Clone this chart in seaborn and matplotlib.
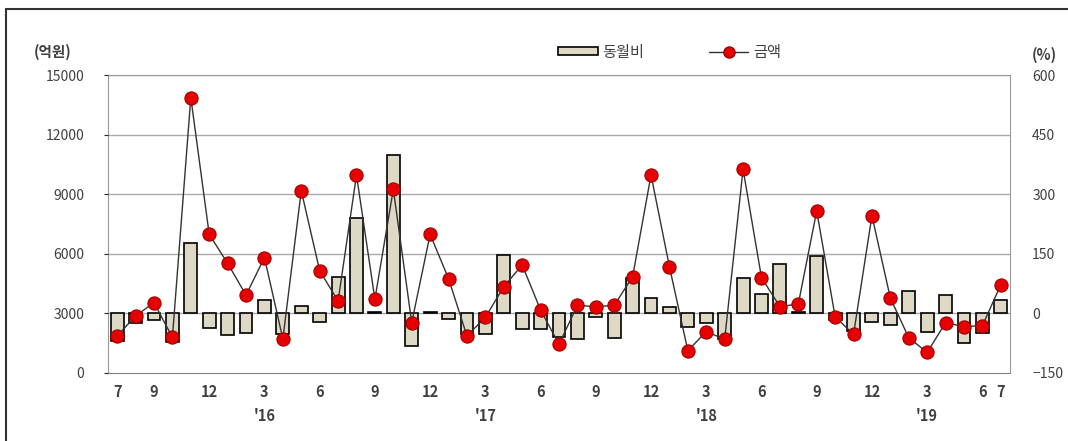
import numpy as np
import pandas as pd
import matplotlib
matplotlib.use('Agg')
import matplotlib.pyplot as plt
import seaborn as sns
from matplotlib.patches import Patch
from matplotlib.lines import Line2D

# 2015.7 ~ 2019.7 월별
months = pd.period_range('2015-07', '2019-07', freq='M')
amount = [1850, 2860, 3530, 1780, 13860, 6970, 5510, 3910, 5800, 1700,
          9170, 5140, 3610, 9960, 3700, 9240, 2520, 6970, 4740, 1850,
          2790, 4330, 5430, 3160, 1430, 3390, 3330, 3390, 4840, 9960,
          5340, 1110, 2070, 1680, 10250, 4790, 3330, 3460, 8150, 2820,
          1930, 7910, 3760, 1760, 1020, 2520, 2320, 2370, 4430]
yoy = [-69, -25, -18, -73, 176, -38, -55, -49, 34, -52,
       18, -22, 92, 239, 2, 399, -84, 2, -15, -52,
       -52, 147, -40, -40, -60, -66, -10, -63, 88, 39,
       15, -36, -25, -66, 88, 48, 123, 2, 143, -18,
       -46, -23, -29, 55, -48, 45, -76, -50, 34]
tick_idx = [0, 2, 5, 8, 11, 14, 17, 20, 23, 26, 29, 32, 35, 38, 41, 44, 47, 48]
year_idx = [8, 20, 32, 44]
year_labels = ["'16", "'17", "'18", "'19"]

df = pd.DataFrame({'month': months.strftime('%Y-%m'), 'amount': amount, 'yoy': yoy})
df['pos'] = np.arange(len(df))

sns.set_style('white')
plt.rcParams['font.family'] = ['Noto Sans CJK KR', 'DejaVu Sans']

fig = plt.figure(figsize=(10.68, 4.41), dpi=100)
ax = fig.add_axes([0.1011, 0.1549, 0.8446, 0.6750])
ax2 = ax.twinx()

bar_color = '#DDD9C4'
sns.barplot(data=df, x='month', y='yoy', ax=ax2, color=bar_color,
            edgecolor='black', linewidth=1.2, width=0.7, saturation=1)
ax2.set_ylim(-150, 600)
ax2.set_yticks(np.arange(-150, 601, 150))
ax2.set_ylabel('')

sns.lineplot(data=df, x='pos', y='amount', ax=ax, color='#333333', linewidth=1,
             marker='o', markersize=9.5, markerfacecolor='#E60000',
             markeredgecolor='#A00000', markeredgewidth=0.8)
ax.set_zorder(ax2.get_zorder() + 1)
ax.patch.set_visible(False)
ax.set_ylim(0, 15000)
ax.set_yticks(np.arange(0, 15001, 3000))
ax.set_xlim(-0.5, len(df) - 0.5)
ax2.set_xlim(-0.5, len(df) - 0.5)
ax.set_ylabel('')
ax.set_xlabel('')
ax2.set_xlabel('')

# 가로 격자선 (오른쪽 축 뒤에)
for v in np.arange(3000, 15001, 3000):
    ax2.axhline((v / 15000) * 750 - 150, color='#AAAAAA', linewidth=1, zorder=0)

labels = [str(months[i].month) for i in tick_idx]
ax.set_xticks(tick_idx)
ax.set_xticklabels(labels, fontsize=10.5, fontweight='bold', color='#404040')
ax.set_xticks(np.arange(-0.5, len(df), 1), minor=True)
ax.tick_params(axis='x', which='major', length=0, pad=8)
ax.tick_params(axis='x', which='minor', direction='in', length=4, color='#555555')
ax2.tick_params(axis='x', which='both', length=0, labelbottom=False)
ax.tick_params(axis='y', length=3, pad=14, labelsize=10, labelcolor='#404040')
ax2.tick_params(axis='y', length=0, pad=16, labelsize=10, labelcolor='#404040')

for i, lab in zip(year_idx, year_labels):
    ax.text(i, -0.145, lab, transform=ax.get_xaxis_transform(), ha='center', va='center',
            fontsize=10.5, fontweight='bold', color='#404040')

for a in (ax, ax2):
    for s in a.spines.values():
        s.set_visible(False)
ax2.spines['left'].set_visible(True)
ax2.spines['right'].set_visible(True)
ax2.spines['top'].set_visible(True)
ax2.spines['bottom'].set_visible(True)
for s in ('left', 'right', 'top'):
    ax2.spines[s].set_color('#999999')
ax2.spines['bottom'].set_color('#808080')
ax2.spines['bottom'].set_position(('data', -150))

fig.text(0.049, 0.882, '(억원)', ha='center', va='center', fontsize=10.5,
         fontweight='bold', color='#404040')
fig.text(0.978, 0.876, '(%)', ha='center', va='center', fontsize=10.5,
         fontweight='bold', color='#404040')

handles = [Patch(facecolor=bar_color, edgecolor='black', linewidth=1.2),
           Line2D([0], [0], color='#333333', linewidth=1, marker='o', markersize=8,
                  markerfacecolor='#E60000', markeredgecolor='#A00000')]
fig.legend(handles, ['동월비', '금액'], loc='center', bbox_to_anchor=(0.627, 0.882),
           ncol=2, frameon=False, fontsize=11, handlelength=2.6, handleheight=0.5,
           columnspacing=4.2, handletextpad=0.3, labelcolor='#404040')

# 그림 테두리 (위, 왼쪽)
fig.add_artist(Line2D([6 / 1068, 6 / 1068], [0, 1 - 9 / 441], color='#333333', linewidth=1.5,
                      transform=fig.transFigure))
fig.add_artist(Line2D([6 / 1068, 1], [1 - 9 / 441, 1 - 9 / 441], color='#333333', linewidth=1.5,
                      transform=fig.transFigure))

fig.savefig('out.png', dpi=100)
